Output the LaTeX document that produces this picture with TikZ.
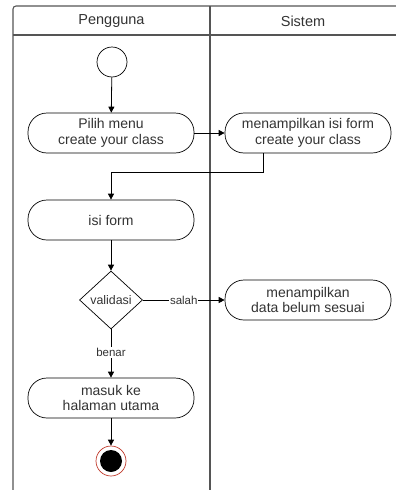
\documentclass[tikz,border=0pt]{standalone}
\usepackage{fontspec}
\setmainfont{Liberation Sans}
\usetikzlibrary{shapes.geometric,arrows.meta}
\definecolor{lane}{HTML}{555555}
\definecolor{endring}{HTML}{C0392B}
\tikzset{
  act/.style={draw, rounded corners=19pt, minimum width=166pt, minimum height=40pt,
    align=center, font=\fontsize{14}{15.5}\selectfont, text=black!80, line width=0.7pt, inner sep=1pt},
  flow/.style={-{Triangle[length=6pt,width=6pt]}, line width=0.8pt},
  decision/.style={draw, diamond, aspect=1.08, minimum width=63pt, minimum height=58pt, inner sep=0pt,
    font=\fontsize{12.4}{14}\selectfont, text=black!80, line width=0.7pt},
  guard/.style={fill=white, inner sep=1pt, font=\fontsize{11.5}{13}\selectfont, text=black!80},
  lanehead/.style={font=\fontsize{14.5}{16}\selectfont, text=black!80}
}
\begin{document}
\begin{tikzpicture}[x=1pt,y=-1pt]
\useasboundingbox (0,0) rectangle (396,490);
% swimlanes
\draw[lane, line width=1.1pt, rounded corners=3pt] (13,490) -- (13,6) -- (396,6);
\draw[lane, line width=1.1pt] (13,35) -- (396,35);
\draw[lane, line width=1.4pt] (210,6) -- (210,490);
\node[lanehead] (hUser) at (111.5,21) {Pengguna};
\node[lanehead] (hSys) at (303,21) {Sistem};
% nodes
\node[draw, circle, minimum size=30pt, line width=0.7pt] (start) at (112,62) {};
\node[act] (pilih) at (111,133) {Pilih menu\\create your class};
\node[act] (tampil) at (308,133) {menampilkan isi form\\create your class};
\node[act] (isi) at (111,220) {isi form};
\node[decision] (valid) at (111,300) {validasi};
\node[act] (gagal) at (308,300) {menampilkan\\data belum sesuai};
\node[act] (masuk) at (111,398) {masuk ke\\halaman utama};
\node[draw=endring, circle, minimum size=30pt, line width=0.7pt] (stop) at (111,461) {};
\node[fill=black, circle, minimum size=22pt, inner sep=0pt] (stopdot) at (stop) {};
% flows
\draw[flow] (start) -- (pilih);
\draw[flow] (pilih) -- (tampil);
\coordinate (bend1) at (263,172);
\coordinate (bend2) at (111,172);
\draw[flow] (tampil.south -| bend1) -- (bend1) -- (bend2) -- (isi);
\draw[flow] (isi) -- (valid);
\draw[flow] (valid) -- node[guard, pos=0.5] (lblS) {salah} (gagal);
\draw[flow] (valid) -- node[guard, pos=0.48] (lblB) {benar} (masuk);
\draw[flow] (masuk) -- (stop);
\end{tikzpicture}
\end{document}
